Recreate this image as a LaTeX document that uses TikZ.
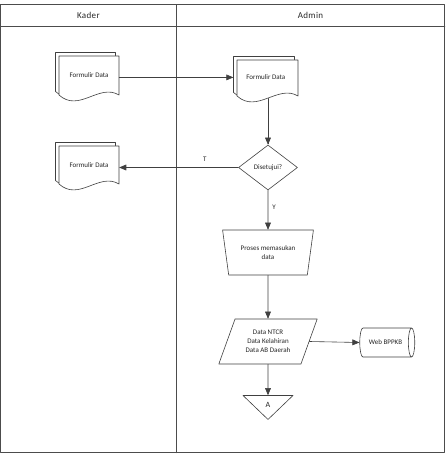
\documentclass[tikz,border=0pt]{standalone}
\usepackage{fontspec}
\setmainfont{Carlito}
\newfontfamily\headfont[LetterSpace=4]{Carlito}
\usetikzlibrary{arrows}
\usetikzlibrary{shapes.geometric}

\begin{document}
\begin{tikzpicture}[line cap=round,line join=round,>=triangle 45,x=1.0pt,y=-1.0pt,
        every node/.style={font=\fontsize{7}{9}\selectfont,inner sep=0pt,color=black!85},
        box/.style={draw=black!75,line width=0.6pt,fill=white,align=center},
        flow/.style={->,draw=black!75,line width=0.6pt},
        lane/.style={draw=black!70,line width=0.8pt},
        head/.style={font=\headfont\fontsize{9}{10}\selectfont}]
        \useasboundingbox (0,0) rectangle (446,454);
        \draw[lane] (0.5,4.7) rectangle (444.8,452.6);
        \draw[lane] (0.5,26) -- (444.8,26);
        \draw[lane] (176.3,4.7) -- (176.3,452.6);
        \node[head] (kader) at (88.4,15.5) {Kader};
        \node[head] (admin) at (310.5,15.5) {Admin};
        \draw[box] (55.5,52.5) -- (115.5,52.5) -- (115.5,91.5) .. controls (95.5,79.5) and (75.5,109.5) .. (55.5,91.5) -- cycle;
        \draw[box] (59,56) -- (119,56) -- (119,95) .. controls (99,83) and (79,113) .. (59,95) -- cycle;
        \node (kader1) [minimum width=60pt,minimum height=39pt] at (89,75.5) {Formulir Data};
        \draw[box] (55.5,142.5) -- (115.5,142.5) -- (115.5,180.5) .. controls (95.5,168.5) and (75.5,198.5) .. (55.5,180.5) -- cycle;
        \draw[box] (59,146) -- (119,146) -- (119,184) .. controls (99,172) and (79,202) .. (59,184) -- cycle;
        \node (kader2) [minimum width=60pt,minimum height=38pt] at (89,165) {Formulir Data};
        \draw[box] (233.5,56.5) -- (294.5,56.5) -- (294.5,92.5) .. controls (274.4,80.5) and (253.6,110.5) .. (233.5,92.5) -- cycle;
        \draw[box] (237,60) -- (298,60) -- (298,96) .. controls (277.9,84) and (257.1,114) .. (237,96) -- cycle;
        \node (admin1) [minimum width=64.5pt,minimum height=41.8pt] at (265.75,77.4) {Formulir Data};
        \node[box,diamond,minimum width=59pt,minimum height=45pt] (cek) at (268,167.5) {Disetujui?};
        \node[box,trapezium,shape border rotate=180,trapezium left angle=73,trapezium right angle=73,
                trapezium stretches=true,minimum width=91pt,minimum height=45pt] (proses) at (268,252.5) {Proses memasukan\\data};
        \node[box,trapezium,trapezium left angle=64,trapezium right angle=116,
                trapezium stretches=true,minimum width=99pt,minimum height=45pt] (datain) at (268,341.5) {Data NTCR\\Data Kelahiran\\Data AB Daerah};
        \node[box,cylinder,aspect=1.3,minimum width=29pt,minimum height=55pt] (web) at (385.5,342.5) {Web BPPKB};
        \node[box,isosceles triangle,shape border rotate=-90,isosceles triangle stretches=true,
                minimum width=50pt,minimum height=24pt,font=\fontsize{8}{9}\selectfont] (conA) at (268,405) {A};
        \draw[flow] (admin1.west -| kader1.east) -- (admin1.west);
        \draw[flow] (admin1.south -| cek.north) -- (cek.north);
        \draw[flow] (cek.west) -- (cek.west -| kader2.east) node[pos=0.28,above=6pt] {T};
        \draw[flow] (cek.south) -- (proses.north) node[pos=0.42,right=4pt] {Y};
        \draw[flow] (proses.south) -- (datain.north);
        \draw[flow] (datain.east) -- (web.west);
        \draw[flow] (datain.south) -- (conA.north);
      \end{tikzpicture}
\end{document}
